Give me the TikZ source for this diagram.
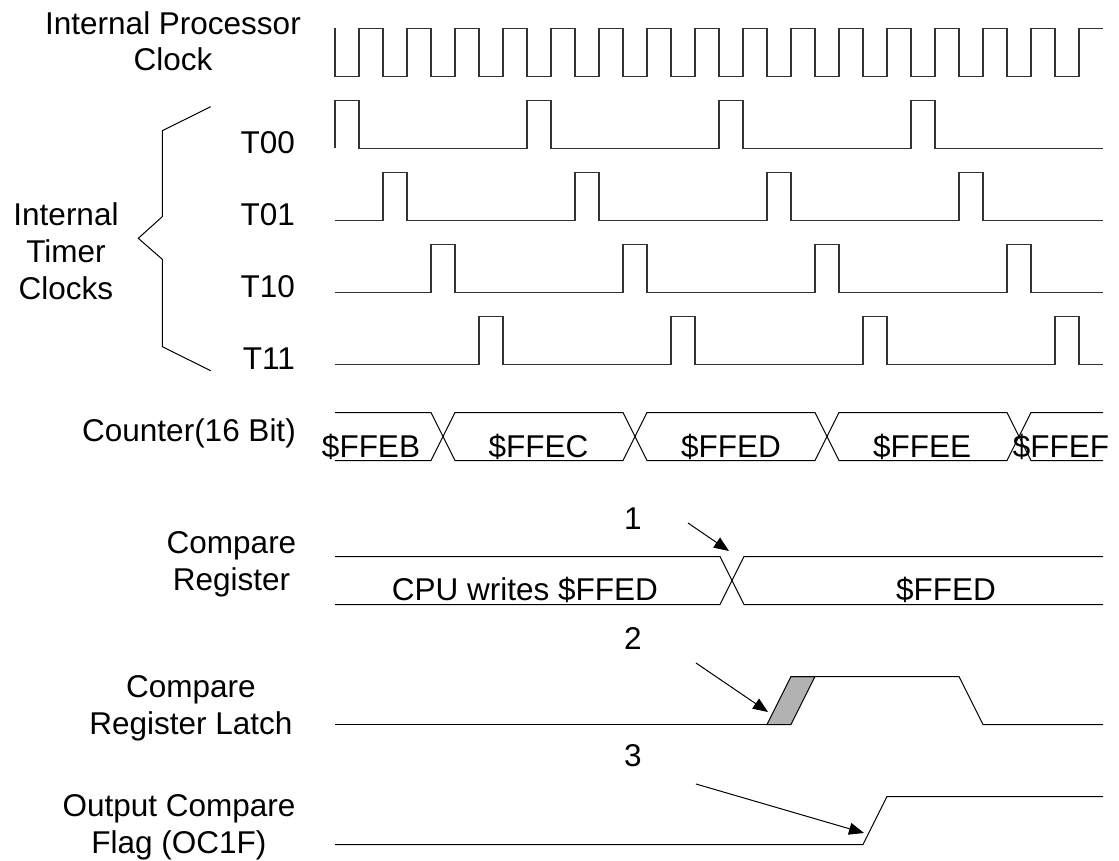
\documentclass[tikz,border=0pt]{standalone}
\usepackage{fontspec}
\setmainfont{Liberation Sans}
\usetikzlibrary{arrows.meta}

\begin{document}
\begin{tikzpicture}[
  x=1pt, y=-1pt,
  font=\fontsize{31.5}{36.8}\selectfont,
  lbl/.style={inner sep=0pt, align=center, anchor=base},
  sig/.style={inner sep=0pt, anchor=base east},
  val/.style={inner sep=0pt, anchor=base},
  wave/.style={draw=black!80, line width=1.5pt},
  bus/.style={draw=black, line width=1pt},
  ptr/.style={draw=black, line width=1pt, -{Triangle[length=15pt,width=12pt]}}
]
\useasboundingbox (0,0) rectangle (1119,861);

% signal names
\node[lbl] (clk) at (173,71) {Internal Processor\\Clock};
\node[lbl] (tclk) at (66,299.5) {Internal\\Timer\\Clocks};
\node[sig] (t00) at (295,153.5) {T00};
\node[sig] (t01) at (295,225.5) {T01};
\node[sig] (t10) at (295,297.5) {T10};
\node[sig] (t11) at (295,369.5) {T11};
\node[sig] (cnt) at (296,441) {Counter(16 Bit)};
\node[lbl] (cmp) at (231.5,590) {Compare\\Register};
\node[lbl] (latch) at (191,734) {Compare\\Register Latch};
\node[lbl] (flag) at (179,853.5) {Output Compare\\Flag (OC1F)};

% brace
\draw[bus] (210.7,106.7) -- (162.3,130.7) -- (162.3,216.7) -- (138.3,238.3)
  -- (162.3,259.3) -- (162.3,346.7) -- (210.7,370.7);

% clocks
\draw[wave] (335,28.5) \foreach \k in {0,...,15} {
  -- ++(0,48) -- ++(24,0) -- ++(0,-48) -- ++(24,0) };
\foreach \y/\p in {148.5/335, 220.5/383, 292.5/431, 364.5/479} {
  \draw[wave] (335,\y) \foreach \k in {0,...,3} {
    -- (\p+192*\k,\y) -- ++(0,-48) -- ++(24,0) -- ++(0,48) } -- (1103,\y);
}

% counter
\draw[bus] (335,412.5) -- (431,412.5) -- (455,460.5) -- (623,460.5) -- (647,412.5)
  -- (815,412.5) -- (839,460.5) -- (1007,460.5) -- (1031,412.5) -- (1103,412.5);
\draw[bus] (335,460.5) -- (431,460.5) -- (455,412.5) -- (623,412.5) -- (647,460.5)
  -- (815,460.5) -- (839,412.5) -- (1007,412.5) -- (1031,460.5) -- (1103,460.5);
\node[val] (vfeb) at (371,457.5) {\$FFEB};
\node[val] (vfec) at (538.5,457.5) {\$FFEC};
\node[val] (vfed) at (731,457.5) {\$FFED};
\node[val] (vfee) at (922,457.5) {\$FFEE};
\node[val] (vfef) at (1061,457.5) {\$FFEF};

% compare register
\draw[bus] (335,556.5) -- (720,556.5) -- (744,604.5) -- (1103,604.5);
\draw[bus] (335,604.5) -- (720,604.5) -- (744,556.5) -- (1103,556.5);
\node[val] (cpuw) at (525,600) {CPU writes \$FFED};
\node[val] (cmpval) at (946,600.5) {\$FFED};

% latch
\draw[bus] (335,724.5) -- (791,724.5);
\draw[bus, fill=black!30] (767,724.5) -- (791,724.5) -- (815,676.5) -- (791,676.5) -- cycle;
\draw[bus] (791,676.5) -- (959,676.5) -- (983,724.5) -- (1103,724.5);

% flag
\draw[bus] (335,844.5) -- (863,844.5) -- (887,796.5) -- (1103,796.5);

% markers
\node[val] (n1) at (633,529.5) {1};
\node[val] (n2) at (633,649) {2};
\node[val] (n3) at (633,766) {3};
\coordinate (n1tail) at (688,523);
\coordinate (n1head) at (729,551);
\coordinate (n2tail) at (696,663);
\coordinate (n2head) at (768,712);
\coordinate (n3tail) at (696,784);
\coordinate (n3head) at (864,833);
\draw[ptr] (n1tail) -- (n1head);
\draw[ptr] (n2tail) -- (n2head);
\draw[ptr] (n3tail) -- (n3head);
\end{tikzpicture}
\end{document}
